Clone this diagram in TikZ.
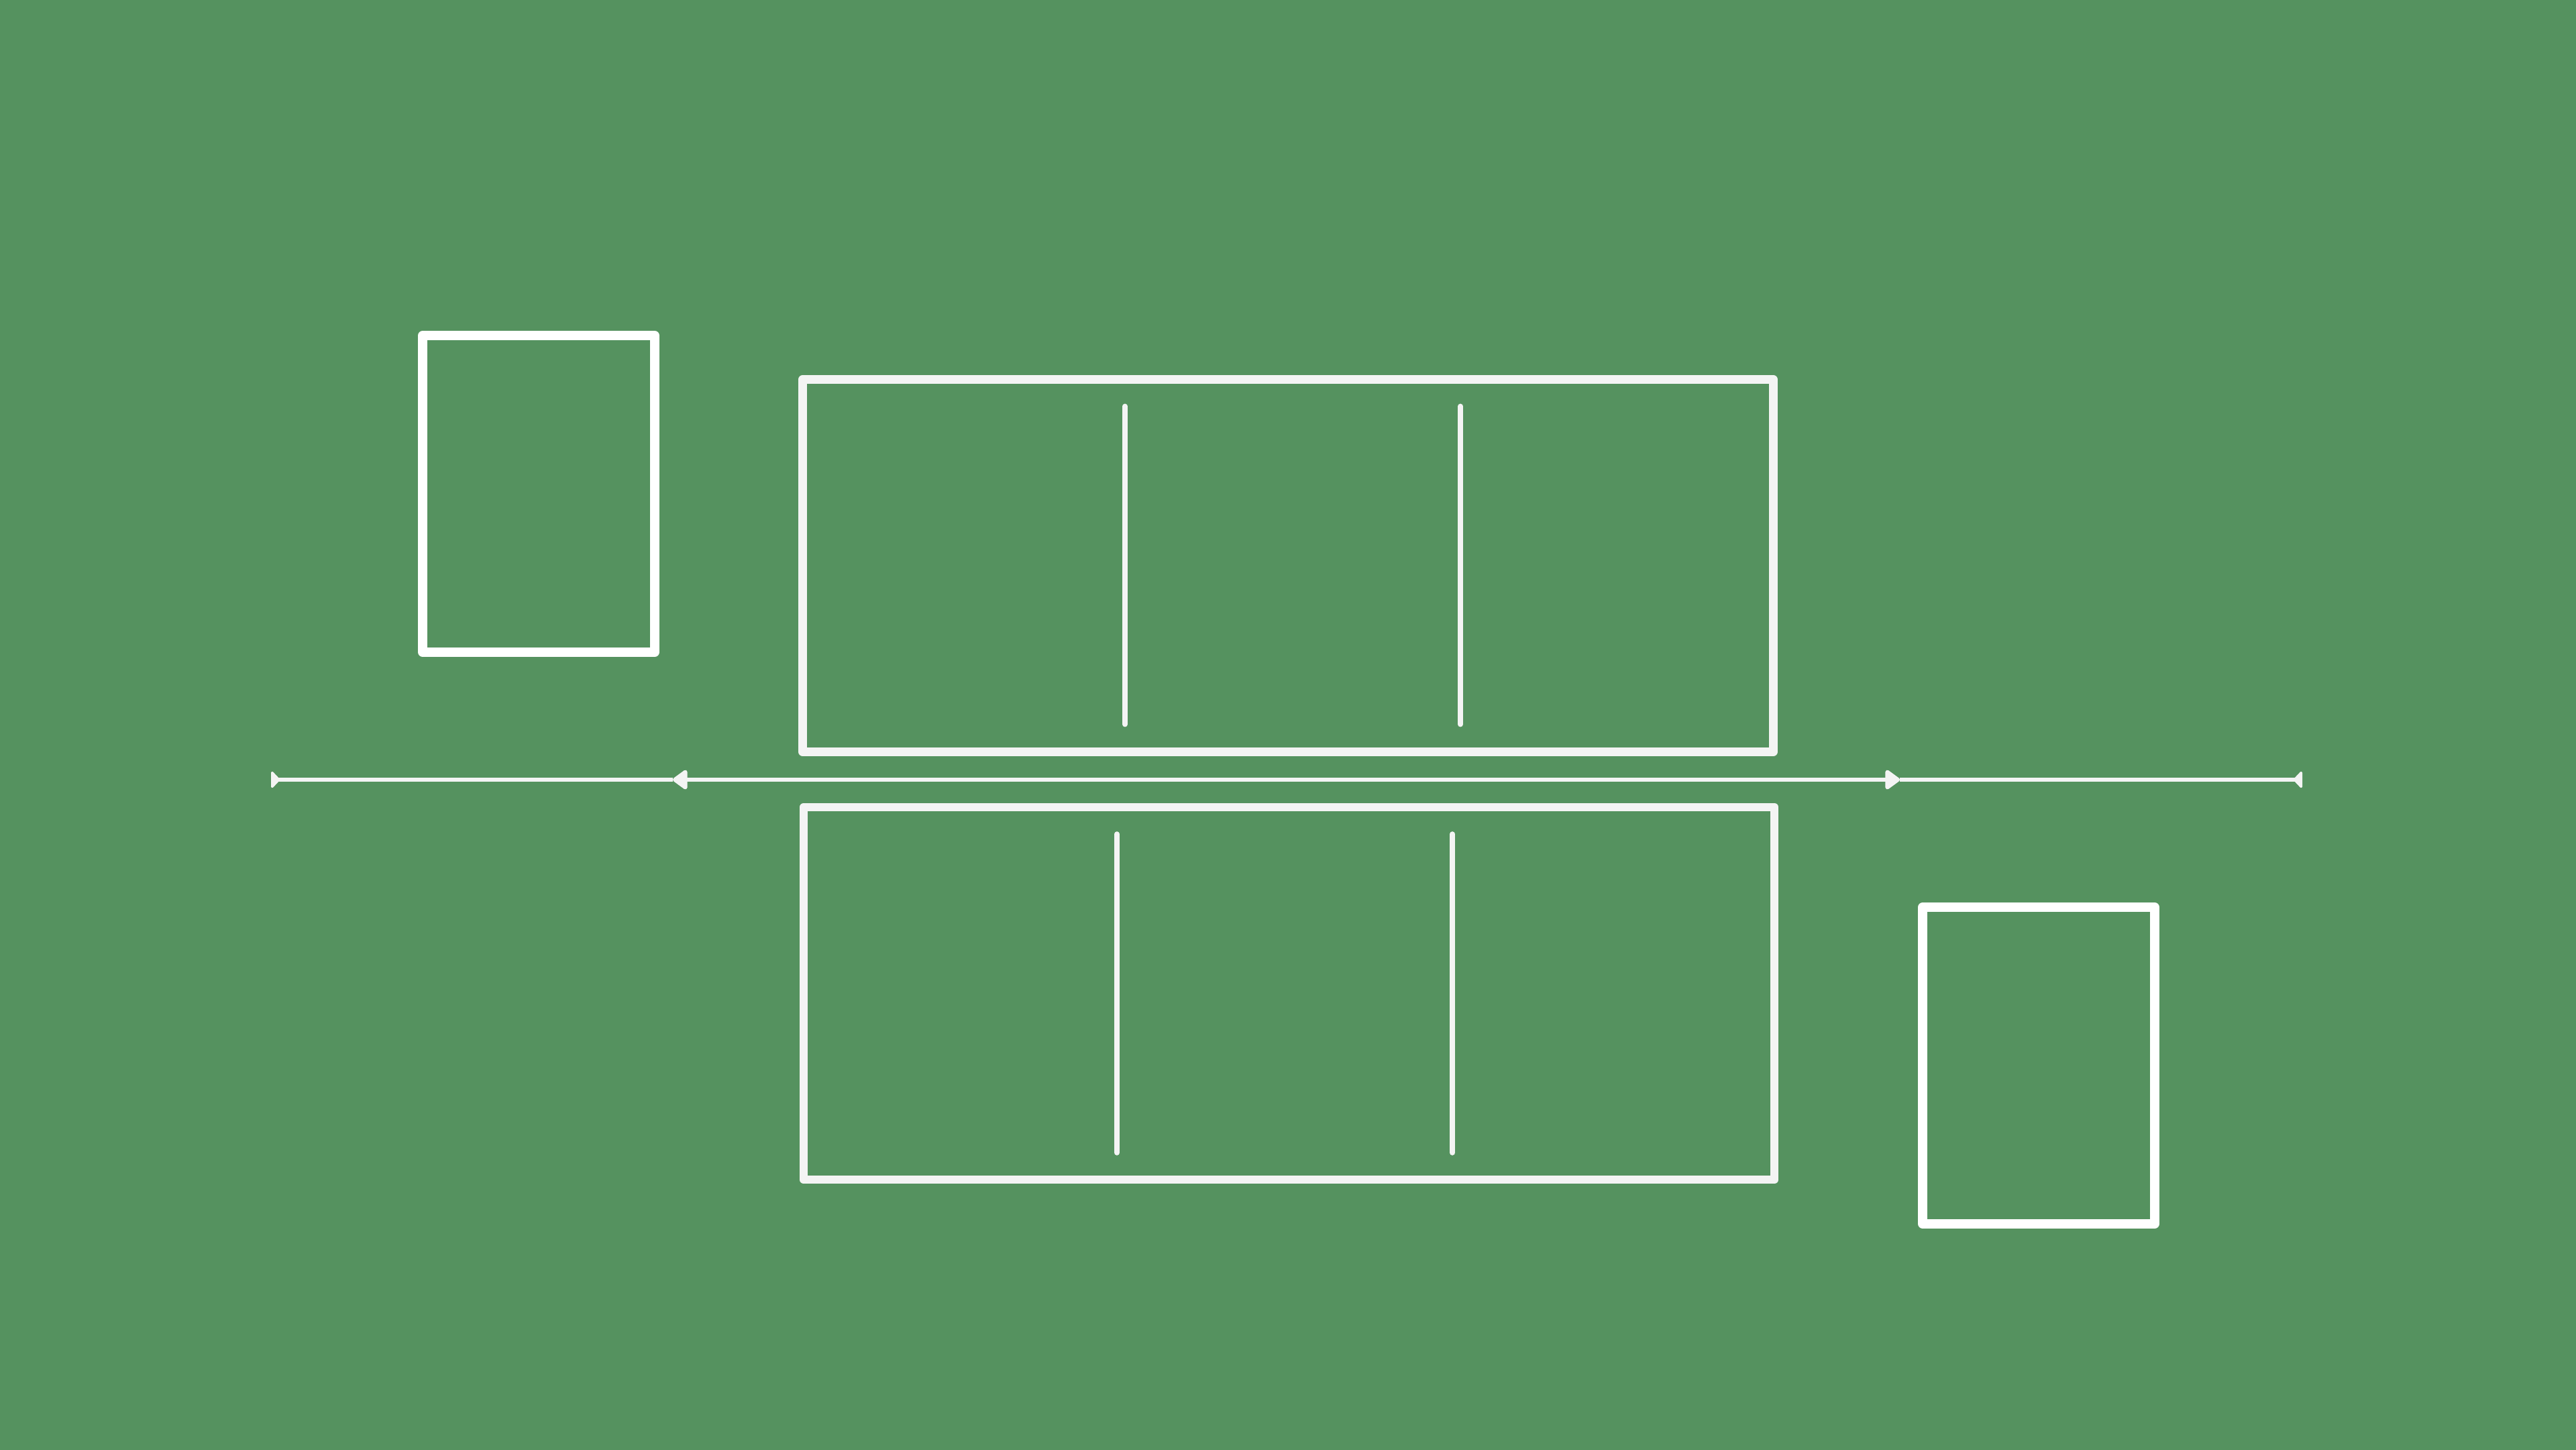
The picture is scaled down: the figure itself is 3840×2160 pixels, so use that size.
\documentclass[tikz,border=0pt]{standalone}
\usetikzlibrary{arrows.meta}
\definecolor{bg}{RGB}{85,146,95}
\definecolor{ln}{RGB}{244,244,244}
\begin{document}
\begin{tikzpicture}[x=0.01cm,y=-0.01cm,
  smallbox/.style={draw=white,line width=3.8pt,line join=round,minimum width=3.46cm,minimum height=4.72cm,inner sep=0pt,outer sep=0pt},
  bigbox/.style={draw=ln,line width=3.55pt,line join=round,minimum width=14.46cm,minimum height=5.55cm,inner sep=0pt,outer sep=0pt},
  divider/.style={draw=ln,line width=2.2pt,line cap=round},
  axisline/.style={draw=ln,line width=1.9pt},
  intip/.tip={Triangle[length=6.8pt,width=9.4pt,round]},
  outtip/.tip={Triangle[reversed,length=4pt,width=8.2pt,round]}]
\useasboundingbox (0,0) rectangle (3840,2160);
\fill[bg] (-20,-20) rectangle (3860,2180);
% boxes
\node[smallbox] (s1) at (803,736) {};
\node[smallbox] (s2) at (3039,1588) {};
\node[bigbox] (top) at (1920,843) {};
\node[bigbox] (bot) at (1921.5,1480.5) {};
% dividers
\coordinate (t1a) at (1677,605.5);
\coordinate (t1b) at (1677,1079.5);
\coordinate (t2a) at (2177,605.5);
\coordinate (t2b) at (2177,1079.5);
\coordinate (b1a) at (1665,1243);
\coordinate (b1b) at (1665,1718);
\coordinate (b2a) at (2165,1243);
\coordinate (b2b) at (2165,1718);
\draw[divider] (t1a) -- (t1b);
\draw[divider] (t2a) -- (t2b);
\draw[divider] (b1a) -- (b1b);
\draw[divider] (b2a) -- (b2b);
% axis
\coordinate (L) at (404,1162);
\coordinate (A) at (1003,1162);
\coordinate (B) at (2832,1162);
\coordinate (R) at (3432,1162);
\draw[axisline,{outtip}-] (L) -- (A);
\draw[axisline,{intip}-{intip}] (A) -- (B);
\draw[axisline,-{outtip}] (B) -- (R);
\end{tikzpicture}
\end{document}
